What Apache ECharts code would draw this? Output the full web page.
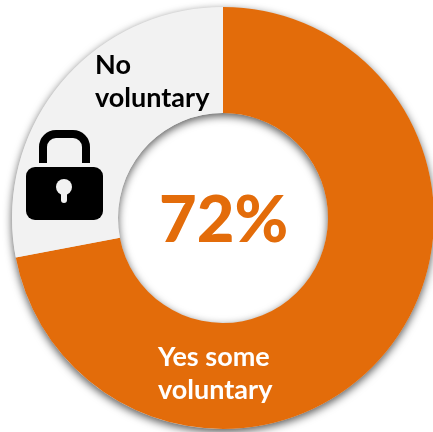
<!DOCTYPE html>
<html>
<head>
<meta charset="utf-8">
<style>html,body{margin:0;padding:0;background:#fff}#chart{width:433px;height:432px}</style>
<script src="https://cdn.jsdelivr.net/npm/echarts@6/dist/echarts.min.js"></script>
</head>
<body>
<div id="chart"></div>
<script>
// Share of respondents with some voluntary provision
const categories = ['Yes some\nvoluntary', 'No\nvoluntary'];
const shares = [72, 28];
const sliceColors = ['#E36C0A', '#F2F2F2'];
const labelColors = ['#FFFFFF', '#000000'];
const labelSpots = [{ x: 158, y: 374 }, { x: 95, y: 82 }];
const headline = '72%';

const chart = echarts.init(document.getElementById('chart'), null, { renderer: 'canvas' });
const fontFamily = 'Lato, "Open Sans", sans-serif';
const ringCenter = [223, 218];
const ringRadii = [105, 211];
const topZ = 10;

chart.setOption({
  animation: false,
  backgroundColor: '#fff',
  series: [{
    type: 'pie',
    center: ringCenter,
    radius: ringRadii,
    startAngle: 90,
    clockwise: true,
    silent: true,
    label: {
      show: true,
      position: 'inside',
      formatter: '{b}',
      fontFamily,
      fontWeight: 700,
      fontSize: 27,
      lineHeight: 33,
      align: 'left',
      verticalAlign: 'middle'
    },
    labelLine: { show: false },
    labelLayout: (params) => ({
      x: labelSpots[params.dataIndex].x,
      y: labelSpots[params.dataIndex].y,
      align: 'left',
      verticalAlign: 'middle'
    }),
    data: categories.map((name, i) => ({
      name,
      value: shares[i],
      itemStyle: { color: sliceColors[i] },
      label: { color: labelColors[i] }
    }))
  }],
  graphic: [
    {
      // Soft shadow cast by the whole ring, kept below the slices
      type: 'ring',
      z: 0,
      shape: { cx: ringCenter[0], cy: ringCenter[1], r: ringRadii[1], r0: ringRadii[0] },
      style: {
        fill: '#ddd',
        shadowBlur: 8,
        shadowOffsetY: 3,
        shadowColor: 'rgba(0,0,0,0.65)'
      }
    },
    {
      type: 'text',
      z: topZ,
      left: 159,
      top: 189,
      style: {
        text: headline,
        fill: '#E36C0A',
        fontFamily,
        fontWeight: 900,
        fontSize: 65
      }
    },
    {
      // Padlock: shackle, gap, body and keyhole
      type: 'group',
      children: [
        {
          type: 'rect',
          z: topZ,
          shape: { x: 43, y: 134, width: 43, height: 50, r: 13 },
          style: { fill: 'none', stroke: '#000', lineWidth: 8 }
        },
        {
          type: 'rect',
          z: topZ + 1,
          shape: { x: 34, y: 163, width: 60, height: 6 },
          style: { fill: '#F2F2F2' }
        },
        {
          type: 'rect',
          z: topZ + 2,
          shape: { x: 26, y: 167, width: 77, height: 53, r: 9 },
          style: { fill: '#000' }
        },
        {
          type: 'circle',
          z: topZ + 3,
          shape: { cx: 64, cy: 187, r: 8 },
          style: { fill: '#F2F2F2' }
        },
        {
          type: 'rect',
          z: topZ + 3,
          shape: { x: 61, y: 190, width: 6, height: 13, r: 3 },
          style: { fill: '#F2F2F2' }
        }
      ]
    }
  ]
});
</script>
</body>
</html>
